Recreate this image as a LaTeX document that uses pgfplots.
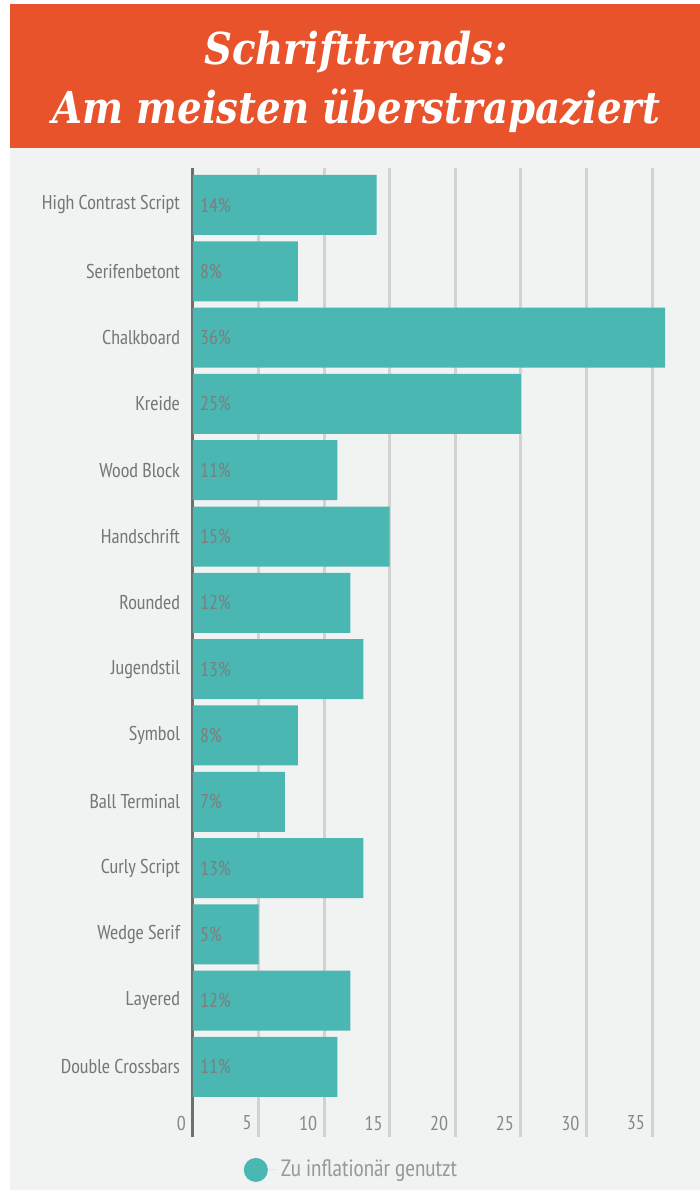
\documentclass[border=0pt]{standalone}
\usepackage{pgfplots}
\pgfplotsset{compat=1.18}
\usepackage{pgfplotstable}
\usepackage{fontspec}
\setmainfont{PT Sans Narrow}
\newfontfamily\titlefont{DejaVu Serif}[FakeStretch=0.88]
\definecolor{bg}{HTML}{F1F2F2}
\definecolor{head}{HTML}{E8532B}
\definecolor{barc}{HTML}{4AB7B3}
\definecolor{gridc}{HTML}{D2D2D2}
\definecolor{axc}{HTML}{6E6E6E}
\definecolor{txt}{HTML}{777777}
\definecolor{tickc}{HTML}{888888}
\definecolor{labc}{HTML}{7E7E7E}
\definecolor{legc}{HTML}{999999}

% pos: 13 = top row (High Contrast Script), 0 = bottom row (Double Crossbars)
\pgfplotstableread{
pos val
13 14
12 8
11 36
10 25
9 11
8 15
7 12
6 13
5 8
4 7
3 13
2 5
1 12
0 11
}\datatable

\begin{document}
\begin{tikzpicture}
\path[use as bounding box] (0pt,0pt) rectangle (350pt,595pt);
\fill[bg] (5pt,0pt) rectangle (350pt,521pt);
\fill[head] (5pt,521pt) rectangle (350pt,593pt);
\node[font=\titlefont\bfseries\itshape\fontsize{22}{29.5}\selectfont, text=white, align=center] at (178pt,554pt) {Schrifttrends:\\Am meisten überstrapaziert};

\begin{axis}[
  at={(96.5pt,26.5pt)}, anchor=south west,
  scale only axis, width=253.5pt, height=484.5pt,
  xmin=0, xmax=38.66, ymin=-1.056, ymax=13.558,
  separate axis lines,
  axis x line*=bottom, axis y line*=left,
  x axis line style={draw=none},
  y axis line style={draw=axc, line width=1.5pt, -},
  major tick length=0pt,
  xtick={0,5,...,35},
  xmajorgrids, grid style={gridc, line width=1.5pt},
  /pgf/number format/assume math mode=true,
  xticklabel style={anchor=east, yshift=7pt, text=tickc, font=\fontsize{10}{12}\selectfont},
  ytick={0,...,13},
  yticklabels={Double Crossbars, Layered, Wedge Serif, Curly Script, Ball Terminal, Symbol, Jugendstil, Rounded, Handschrift, Wood Block, Kreide, Chalkboard, Serifenbetont, High Contrast Script},
  yticklabel style={text=txt, font=\fontsize{10}{12}\selectfont, xshift=-3pt},
  legend style={at={(0.3146,-0.034)}, anchor=center, draw=none, fill=none, font=\fontsize{11.8}{14}\selectfont, text=legc},
  legend image code/.code={\fill[barc] (6pt,0pt) circle (6pt); \path (0pt,0pt) -- (16.5pt,0pt);},
]
\addplot[xbar, bar width=30pt, fill=barc, draw=none] table[x=val, y=pos] {\datatable};
\addlegendentry{Zu inflationär genutzt}
\addplot[forget plot, draw=none, mark=none, point meta=explicit,
  nodes near coords={\pgfmathprintnumber{\pgfplotspointmeta}\%},
  nodes near coords style={anchor=west, text=labc, font=\fontsize{10}{12}\selectfont}]
  table[x expr=0, y=pos, meta=val] {\datatable};
\end{axis}
\end{tikzpicture}
\end{document}
